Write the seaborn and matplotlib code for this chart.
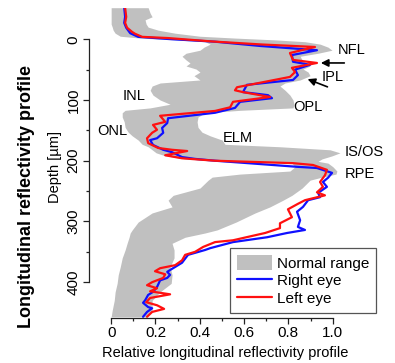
import matplotlib
matplotlib.use("Agg")
import matplotlib.pyplot as plt
from matplotlib.patches import Patch
from matplotlib.lines import Line2D
import seaborn as sns

# depth [um] and relative reflectivity
right_depth = [-52, -37, -27, -19, -10, -4, -0.5, 4, 11, 18, 26, 37, 42, 50, 59, 67,
               75, 87, 92, 97, 103, 113, 121, 130, 138, 146, 154, 163, 166, 174, 182,
               186, 194, 197, 200, 210, 212, 220, 228, 235, 243, 253, 260, 265, 276,
               284, 298, 309, 314, 319, 326, 334, 344, 347, 355, 368, 380, 383, 388,
               393, 397, 408, 416, 421, 430, 434, 441, 443, 449, 457]
right_eye = [0.059, 0.063, 0.059, 0.068, 0.086, 0.122, 0.257, 0.469, 0.672, 0.929,
             0.816, 0.821, 0.898, 0.830, 0.843, 0.821, 0.613, 0.595, 0.708, 0.726,
             0.582, 0.559, 0.469, 0.257, 0.253, 0.230, 0.235, 0.207, 0.176, 0.189,
             0.235, 0.275, 0.320, 0.379, 0.469, 0.839, 0.929, 0.997, 0.979, 0.956,
             0.974, 0.934, 0.943, 0.889, 0.866, 0.839, 0.853, 0.843, 0.875, 0.794,
             0.704, 0.550, 0.447, 0.424, 0.347, 0.320, 0.266, 0.253, 0.266, 0.253,
             0.221, 0.207, 0.189, 0.167, 0.153, 0.144, 0.167, 0.185, 0.162, 0.144]

left_depth = [-52, -37, -27, -19, -12, -9, -4, -2, 3.6, 8.6, 12.7, 22.6, 34, 39, 47,
              54, 62, 79, 84, 87, 95, 103, 112, 118, 126, 136, 141, 149, 154, 163,
              171, 179, 182, 184, 191, 196, 200, 204, 207, 215, 224, 235, 243, 252,
              257, 265, 271, 280, 293, 303, 311, 319, 331, 334, 342, 350, 355, 364,
              372, 377, 382, 387, 393, 400, 405, 410, 415, 420, 423, 426, 433, 438,
              444, 449, 457]
left_eye = [0.063, 0.068, 0.063, 0.072, 0.095, 0.108, 0.140, 0.257, 0.456, 0.681,
            0.920, 0.807, 0.821, 0.929, 0.816, 0.830, 0.807, 0.568, 0.559, 0.595,
            0.717, 0.550, 0.537, 0.469, 0.221, 0.244, 0.189, 0.207, 0.185, 0.162,
            0.167, 0.212, 0.275, 0.343, 0.244, 0.320, 0.469, 0.821, 0.911, 0.974,
            0.965, 0.943, 0.956, 0.929, 0.965, 0.875, 0.843, 0.798, 0.816, 0.762,
            0.762, 0.695, 0.550, 0.469, 0.415, 0.379, 0.334, 0.320, 0.289, 0.221,
            0.198, 0.244, 0.235, 0.185, 0.162, 0.207, 0.176, 0.266, 0.221, 0.176,
            0.158, 0.207, 0.239, 0.185, 0.162]

normal_depth = [-52, -43, -37, -32, -25, -20, -15, -10, -5, -2, 1, 4, 8, 13, 18, 23,
                28, 34, 39, 44, 49, 54, 60, 67, 72, 77, 84, 92, 100, 107, 113, 117,
                121, 128, 136, 145, 153, 159, 166, 173, 177, 182, 187, 192, 197, 201,
                204, 210, 217, 222, 227, 232, 245, 257, 265, 276, 286, 301, 314, 319,
                326, 336, 347, 360, 375, 388, 402, 416, 430, 446, 457]
normal_low = [0.0, 0.0, 0.0, 0.0, 0.0, 0.005, 0.009, 0.018, 0.041, 0.131, 0.289, 0.424,
              0.447, 0.419, 0.401, 0.338, 0.320, 0.338, 0.356, 0.338, 0.383, 0.401,
              0.374, 0.401, 0.221, 0.185, 0.176, 0.189, 0.221, 0.266, 0.176, 0.063,
              0.050, 0.050, 0.059, 0.063, 0.077, 0.095, 0.122, 0.140, 0.167, 0.185,
              0.203, 0.244, 0.334, 0.537, 0.816, 0.830, 0.807, 0.582, 0.456, 0.438,
              0.401, 0.280, 0.257, 0.275, 0.185, 0.122, 0.095, 0.086, 0.081, 0.072,
              0.063, 0.050, 0.041, 0.032, 0.027, 0.018, 0.014, 0.005, 0.0]
normal_high = [0.167, 0.176, 0.185, 0.153, 0.158, 0.167, 0.212, 0.289, 0.401, 0.559,
               0.740, 0.875, 0.943, 0.979, 0.997, 0.934, 0.853, 0.862, 0.880, 0.898,
               0.866, 0.889, 0.898, 0.853, 0.785, 0.762, 0.785, 0.807, 0.821, 0.825,
               0.821, 0.582, 0.424, 0.392, 0.388, 0.392, 0.410, 0.447, 0.501, 0.514,
               0.762, 0.988, 1.033, 0.997, 0.952, 0.934, 0.979, 1.001, 1.019, 1.015,
               0.952, 0.898, 0.862, 0.816, 0.776, 0.717, 0.650, 0.564, 0.478, 0.424,
               0.334, 0.275, 0.284, 0.284, 0.266, 0.275, 0.271, 0.221, 0.185, 0.185,
               0.158]

layers = ["NFL", "IPL", "OPL", "INL", "ONL", "ELM", "IS/OS", "RPE"]
layer_x = [1.024, 0.952, 0.821, 0.05, -0.063, 0.505, 1.055, 1.055]
layer_y = [17.6, 62, 112, 93, 151, 163, 186, 222]

sns.set_theme(style="ticks")
plt.rcParams["font.family"] = ["Liberation Sans", "DejaVu Sans"]
plt.rcParams["text.color"] = "black"
plt.rcParams["xtick.color"] = "black"
plt.rcParams["ytick.color"] = "black"

fig = plt.figure(figsize=(3.95, 3.63), dpi=100)
ax = fig.add_axes([89 / 395, 45 / 363, 288 / 395, 310.3 / 363])

ax.fill_betweenx(normal_depth, normal_low, normal_high, color="#c0c0c0", lw=0)
sns.lineplot(x=right_eye, y=right_depth, orient="y", estimator=None,
             color="#1010ff", lw=1.6, ax=ax)
sns.lineplot(x=left_eye, y=left_depth, orient="y", estimator=None,
             color="#ff1010", lw=1.6, ax=ax)

ax.set_xlim(-0.1, 1.2)
ax.set_ylim(459, -52)
ax.set_xticks([0, 0.2, 0.4, 0.6, 0.8, 1.0], ["0", "0.2", "0.4", "0.6", "0.8", "1.0"])
ax.set_xticks([0.1, 0.3, 0.5, 0.7, 0.9], minor=True)
ax.set_yticks([0, 100, 200, 300, 400])
ax.set_yticks([50, 150, 250, 350], minor=True)
ax.tick_params(axis="both", which="major", length=4, width=0.9, labelsize=11,
               color="#222222", pad=2)
ax.tick_params(axis="both", which="minor", length=2.5, width=0.9, color="#222222")
ax.tick_params(axis="y", labelrotation=90)
for lab in ax.get_yticklabels():
    lab.set_va("center")
sns.despine(ax=ax)
ax.spines["left"].set_bounds(0, 400)
ax.spines["bottom"].set_bounds(0, 1.0)
for s in ["left", "bottom"]:
    ax.spines[s].set_color("#222222")
    ax.spines[s].set_linewidth(0.9)
ax.set_xlabel("")
ax.set_ylabel("")

for name, x, y in zip(layers, layer_x, layer_y):
    ax.text(x, y, name, fontsize=10.5, ha="left", va="center")

arrow = dict(arrowstyle="-|>", color="black", lw=1.2, mutation_scale=11)
ax.annotate("", xy=(0.934, 39), xytext=(1.065, 39), arrowprops=arrow)
ax.annotate("", xy=(0.875, 64), xytext=(0.988, 80), arrowprops=arrow)

handles = [Patch(facecolor="#c0c0c0", edgecolor="none"),
           Line2D([], [], color="#1010ff", lw=1.6),
           Line2D([], [], color="#ff1010", lw=1.6)]
leg = ax.legend(handles, ["Normal range", "Right eye", "Left eye"],
                loc="lower right", bbox_to_anchor=(0.997, 0.016), borderaxespad=0,
                fontsize=11, frameon=True, fancybox=False, framealpha=1,
                edgecolor="#555555", handlelength=2.3, handleheight=1.1,
                labelspacing=0.15, handletextpad=0.3, borderpad=0.45)
leg.get_frame().set_linewidth(0.9)

fig.text(55 / 395, 1 - 167 / 363, "Depth [\u00b5m]", rotation=90, fontsize=10.5,
         ha="center", va="center")
fig.text(225 / 395, 1 - 353 / 363, "Relative longitudinal reflectivity profile",
         fontsize=10.5, ha="center", va="center")
fig.text(27 / 395, 1 - 196 / 363, "Longitudinal reflectivity profile", rotation=90,
         fontsize=13, fontweight="bold", ha="center", va="center")

fig.savefig("out.png", dpi=100)
